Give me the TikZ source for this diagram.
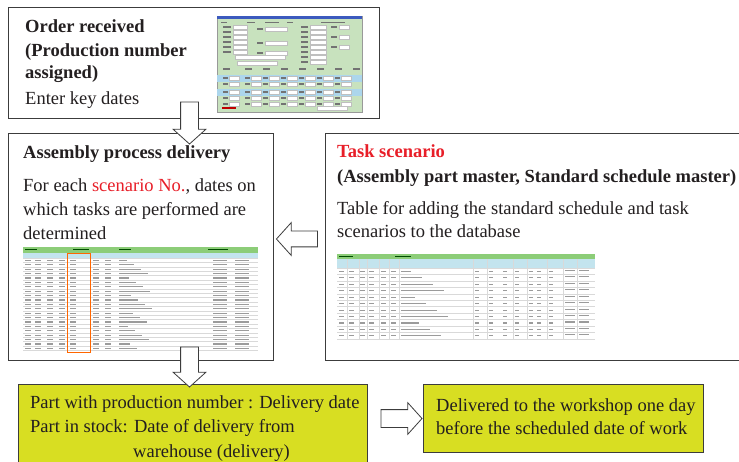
\documentclass[tikz,border=0pt]{standalone}
\usepackage{fontspec}
\setmainfont{Liberation Serif}
\usetikzlibrary{shapes.arrows}
\definecolor{boxgray}{RGB}{60,60,60}
\definecolor{textdark}{RGB}{35,31,32}
\definecolor{taskred}{RGB}{232,30,40}
\definecolor{deliveryyellow}{RGB}{216,222,34}
\definecolor{screengreen}{RGB}{200,226,190}
\definecolor{screenblue}{RGB}{172,214,236}
\definecolor{titleblue}{RGB}{60,90,190}
\definecolor{headgreen}{RGB}{140,205,120}
\definecolor{headblue}{RGB}{195,228,238}
\definecolor{markgray}{RGB}{155,155,155}

\begin{document}
\begin{tikzpicture}[x=1pt, y=-1pt,
        box/.style={draw=boxgray, line width=1pt, anchor=north west, inner sep=0, fill=white},
        ybox/.style={box, fill=deliveryyellow},
        line/.style={anchor=base west, inner sep=0, text=textdark, font=\fontsize{18.5}{23}\selectfont},
        head/.style={line, font=\fontsize{18.5}{23}\selectfont\bfseries},
        barrow/.style={single arrow, draw=boxgray, fill=white, line width=0.8pt, inner sep=8.5pt,
                minimum width=32, single arrow head extend=7.5, single arrow tip angle=96, minimum height=42},
        cellmark/.style={markgray, line width=1.1pt},
        label/.style={black!55, line width=1.6pt},
        field/.style={fill=white, draw=black!25, line width=0.3pt}]

    \useasboundingbox (0,0) rectangle (739,462);

    %boxes
    \node[box, minimum width=371, minimum height=111] (order) at (8,7) {};
    \node[box, minimum width=265, minimum height=227] (assembly) at (8,133) {};
    \node[box, minimum width=430, minimum height=227] (task) at (325,133) {};
    \node[ybox, minimum width=349, minimum height=90] (part) at (18,384) {};
    \node[ybox, minimum width=280, minimum height=68] (workshop) at (423,384) {};

    %order received
    \node[head] (t11) at (25,33) {Order received};
    \node[head] (t12) at (25,57) {(Production number};
    \node[head] (t13) at (25,79) {assigned)};
    \node[line] (t14) at (25,105) {Enter key dates};

    %screen of the order
    \begin{scope}[shift={(217,16)}]
        \fill[screengreen] (0,0) rectangle (145,96);
        \draw[black!40, line width=0.4] (0,0) rectangle (145,96);
        \fill[titleblue] (0,0) rectangle (145,3);
        \fill[screenblue] (0,59) rectangle (145,66);
        \fill[screenblue] (0,73) rectangle (145,80);
        \foreach \x/\w in {4/6, 30/8, 48/14, 70/6, 104/24}
            \draw[label, line width=1pt] (\x,6.5) -- ++(\w,0);
        \foreach \y in {11,16,21,26,31,36} {
            \draw[label] (6,\y) -- ++(8,0);
            \draw[field] (16,\y-2) rectangle ++(14,4);
        }
        \foreach \y in {13,27,37} {
            \draw[label] (40,\y) -- ++(6,0);
            \draw[field] (48,\y-2) rectangle ++(22,4);
        }
        \foreach \y in {11,16,21,26,31,36,41,46} {
            \draw[label] (84,\y) -- ++(7,0);
            \draw[field] (93,\y-2) rectangle ++(16,4);
        }
        \foreach \y in {11,21,31} {
            \draw[label] (114,\y) -- ++(6,0);
            \draw[field] (122,\y-2) rectangle ++(10,4);
        }
        \draw[field] (18,39) rectangle ++(50,4);
        \draw[field] (20,45) rectangle ++(40,4);
        \foreach \x in {6,28,46,64,82,100,118,136}
            \draw[label] (\x,53) -- ++(7,0);
        \foreach \y in {62,68,76,82,88}
            \foreach \x in {6,28,46,64,82,100,118} {
                \draw[label] (\x,\y) -- ++(5,0);
                \draw[field] (\x+6,\y-2) rectangle ++(10,4);
            }
        \fill[red!75!black] (5,91) rectangle ++(14,2);
        \draw[field] (100,90) rectangle ++(30,4);
    \end{scope}

    %assembly process delivery
    \node[head] (t21) at (23,159) {Assembly process delivery};
    \node[line] (t22) at (23,192) {For each \textcolor{taskred}{scenario No.}, dates on};
    \node[line] (t23) at (23,216) {which tasks are performed are};
    \node[line] (t24) at (23,240) {determined};

    %table of delivery dates
    \begin{scope}[shift={(23,247)}]
        \fill[headgreen] (0,0) rectangle (235,6);
        \fill[headblue] (0,6) rectangle (235,11);
        \foreach \x/\w in {2/12, 50/16, 96/12, 185/20}
            \draw[green!30!black, line width=1pt] (\x,3) -- ++(\w,0);
        \foreach \i in {0,...,21}
            \draw[black!15, line width=0.4] (0,{11+4.4*\i}) -- (235,{11+4.4*\i});
        \foreach \i in {0,...,20} {
            \foreach \x in {2,12,24,36,47,70,82}
                \draw[cellmark] (\x,{13.4+4.4*\i}) -- ++(6,0);
            \draw[cellmark] (96,{13.4+4.4*\i}) -- ++({8+mod(\i*7,26)},0);
            \draw[cellmark] (190,{13.4+4.4*\i}) -- ++(14,0);
            \draw[cellmark] (212,{13.4+4.4*\i}) -- ++(14,0);
        }
        \draw[orange!80!red, line width=0.7] (44,6) rectangle (67,105);
    \end{scope}

    %task scenario
    \node[head, text=taskred] (t31) at (337,158) {Task scenario};
    \node[head] (t32) at (337,183) {(Assembly part master, Standard schedule master)};
    \node[line] (t33) at (337,215) {Table for adding the standard schedule and task};
    \node[line] (t34) at (337,238) {scenarios to the database};

    %table of the masters
    \begin{scope}[shift={(337,254)}]
        \fill[headgreen] (0,0) rectangle (258,5);
        \fill[headblue] (0,5) rectangle (258,14);
        \draw[green!30!black, line width=1pt] (2,2.5) -- ++(14,0) (58,2.5) -- ++(16,0);
        \foreach \i in {0,...,11}
            \draw[black!15, line width=0.4] (0,{14+6.45*\i}) -- (258,{14+6.45*\i});
        \foreach \x in {10,22,30,42,52,62,136,150,176,190,210,226,240}
            \draw[black!15, line width=0.4] (\x,5) -- (\x,85);
        \foreach \i in {0,...,10} {
            \foreach \x in {2,12,23,32,44,54}
                \draw[cellmark] (\x,{17.4+6.45*\i}) -- ++(5,0);
            \draw[cellmark] (64,{17.4+6.45*\i}) -- ++({10+mod(\i*11,40)},0);
            \foreach \x in {138,152,166,178,192,200,212}
                \draw[cellmark] (\x,{17.4+6.45*\i}) -- ++(4,0);
            \draw[cellmark] (228,{16.4+6.45*\i}) -- ++(10,0);
            \draw[cellmark] (242,{16.4+6.45*\i}) -- ++(10,0);
        }
    \end{scope}

    %part delivery
    \node[line] (t41) at (30,408) {Part with production number : Delivery date};
    \node[line] (t42) at (30,432) {Part in stock: Date of delivery from};
    \node[line] (t43) at (133,457) {warehouse (delivery)};

    %workshop
    \node[line] (t51) at (436,411) {Delivered to the workshop one day};
    \node[line] (t52) at (436,434) {before the scheduled date of work};

    %block arrows
    \node[barrow, shape border rotate=270] (down1) at (189.5,119) {};
    \node[barrow, shape border rotate=270, minimum height=40] (down2) at (189.5,363) {};
    \node[barrow, shape border rotate=180, minimum height=41, inner sep=7.5pt, single arrow head extend=8.5] (left1) at (300.5,239) {};
    \node[barrow, minimum height=41, minimum width=31, single arrow head extend=7] (right1) at (397.5,418.5) {};
\end{tikzpicture}
\end{document}
